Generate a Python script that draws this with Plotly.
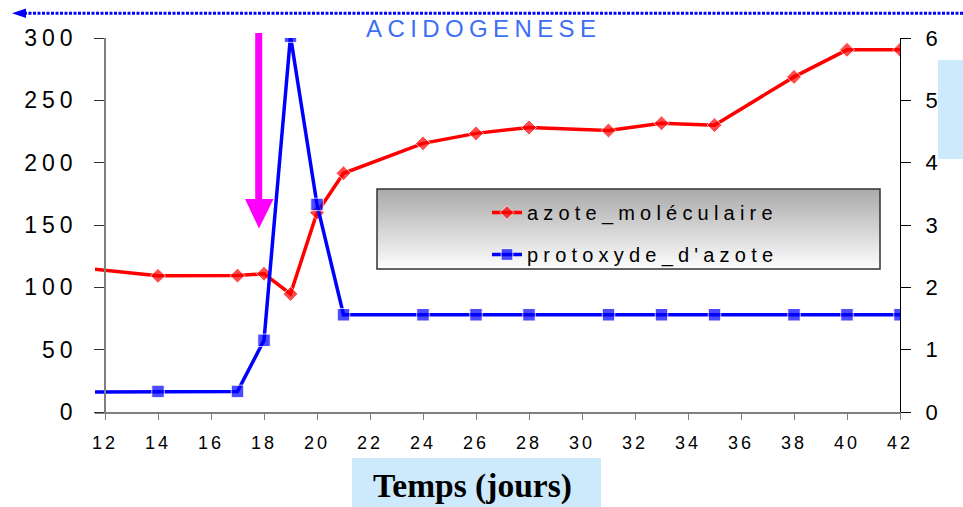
import plotly.graph_objects as go

# ---------------- data ----------------
days = [11.6, 14, 17, 18, 19, 20, 21, 24, 26, 28, 31, 33, 35, 38, 40, 42]
azote_moleculaire = [114.6, 109.2, 109.4, 110.9, 94.7, 159.9, 191.5, 215.5,
                     223.5, 228.2, 225.8, 231.6, 230.1, 268.8, 290.5, 290.5]
protoxyde_d_azote = [0.32, 0.33, 0.33, 1.15, 6.03, 3.33, 1.56, 1.56,
                     1.56, 1.56, 1.56, 1.56, 1.56, 1.56, 1.56, 1.56]
x_ticks = [12, 14, 16, 18, 20, 22, 24, 26, 28, 30, 32, 34, 36, 38, 40, 42]
y_left_ticks = [0, 50, 100, 150, 200, 250, 300]
y_right_ticks = [0, 1, 2, 3, 4, 5, 6]
series_names = ["azote_moléculaire", "protoxyde_d'azote"]
phase_label = "ACIDOGENESE"
x_title = "Temps (jours)"

# ---------------- layout geometry ----------------
W, H = 963, 507
L, R, T, B = 95, 63, 38, 95
PW, PH = W - L - R, H - T - B
X0 = 12 - 10 / 26.5


def px(x):
    return (x - L) / PW


def py(y):
    return (H - B - y) / PH


def spaced(t, ls):
    return f"<span style='letter-spacing:{ls}px'>{t}</span>"


FONT = "Liberation Sans, Arial, sans-serif"

red_sizes = [0] + [11.5] * (len(days) - 1)
blue_sizes = [0] + [12.5] * (len(days) - 1)

fig = go.Figure()
fig.add_trace(go.Scatter(
    x=days, y=azote_moleculaire, yaxis="y", mode="lines+markers",
    name=spaced(series_names[0], 5.2), legendgroup="a",
    line=dict(color="#ff0000", width=3.5),
    marker=dict(symbol="diamond", size=red_sizes, color="#ff0000"),
))
fig.add_trace(go.Scatter(
    x=days, y=protoxyde_d_azote, yaxis="y2", mode="lines+markers",
    name=spaced(series_names[1], 5.2), legendgroup="b",
    line=dict(color="#0000ff", width=3.5),
    marker=dict(symbol="square", size=blue_sizes, color="#0000ff"),
))

shapes = []
# legend gradient box
x_l0, x_l1, y_l0, y_l1 = 377, 880, 189, 269
nb = 24
for i in range(nb):
    f = i / (nb - 1)
    c = int(172 + (252 - 172) * f)
    ya = y_l0 + (y_l1 - y_l0) * i / nb
    yb = y_l0 + (y_l1 - y_l0) * (i + 1) / nb + 0.6
    shapes.append(dict(type="rect", xref="paper", yref="paper",
                       x0=px(x_l0), x1=px(x_l1), y0=py(ya), y1=py(min(yb, y_l1)),
                       fillcolor=f"rgb({c},{c},{c})", line=dict(width=0), layer="above"))
shapes.append(dict(type="rect", xref="paper", yref="paper",
                   x0=px(x_l0), x1=px(x_l1), y0=py(y_l0), y1=py(y_l1),
                   fillcolor="rgba(0,0,0,0)", line=dict(color="#333333", width=1.5), layer="above"))
# light blue boxes
shapes.append(dict(type="rect", xref="paper", yref="paper",
                   x0=px(352), x1=px(601), y0=py(458), y1=py(510),
                   fillcolor="#cceafc", line=dict(width=0), layer="below"))
shapes.append(dict(type="rect", xref="paper", yref="paper",
                   x0=px(938), x1=px(966), y0=py(60), y1=py(159),
                   fillcolor="#cceafc", line=dict(width=0), layer="below"))
# magenta arrow
shapes.append(dict(type="line", xref="paper", yref="paper",
                   x0=px(258.7), x1=px(258.7), y0=py(33), y1=py(202),
                   line=dict(color="#ff00ff", width=7), layer="above"))
shapes.append(dict(type="path", xref="paper", yref="paper",
                   path=f"M {px(245)} {py(199)} L {px(273.5)} {py(199)} L {px(259)} {py(228.5)} Z",
                   fillcolor="#ff00ff", line=dict(width=0), layer="above"))
# dotted top arrow
shapes.append(dict(type="line", xref="paper", yref="paper",
                   x0=px(24), x1=px(963), y0=py(13.3), y1=py(13.3),
                   line=dict(color="#0000ff", width=3, dash="3px,1.5px"), layer="above"))
shapes.append(dict(type="path", xref="paper", yref="paper",
                   path=f"M {px(12)} {py(13.3)} L {px(26)} {py(8.5)} L {px(26)} {py(18)} Z",
                   fillcolor="#0000ff", line=dict(width=0), layer="above"))

annotations = [
    dict(text=spaced(phase_label, 5.4), xref="paper", yref="paper",
         x=px(483), y=py(29), xanchor="center", yanchor="middle", showarrow=False,
         font=dict(family=FONT, size=24, color="#3d6ef5")),
    dict(text=x_title, xref="paper", yref="paper",
         x=px(472.5), y=py(486), xanchor="center", yanchor="middle", showarrow=False,
         font=dict(family="Liberation Serif, Times New Roman, serif", size=33.5,
                   color="#000000", weight="bold")),
]

fig.update_layout(
    width=W, height=H,
    margin=dict(l=L, r=R, t=T, b=B, pad=0),
    paper_bgcolor="white", plot_bgcolor="white",
    showlegend=True,
    legend=dict(x=px(487), y=py(193), xanchor="left", yanchor="top",
                bgcolor="rgba(0,0,0,0)", borderwidth=0,
                font=dict(family=FONT, size=20, color="#000000"),
                tracegroupgap=13, traceorder="grouped"),
    xaxis=dict(range=[X0, 42], tickmode="array", tickvals=x_ticks,
               ticktext=[spaced(v, 3) for v in x_ticks],
               showline=True, linecolor="#7f7f7f", linewidth=1.5,
               ticks="outside", ticklen=6, tickcolor="#7f7f7f", tickwidth=1,
               showgrid=False, zeroline=False, ticklabelstandoff=8,
               tickfont=dict(family=FONT, size=18, color="#000000")),
    yaxis=dict(range=[0, 300], tickmode="array", tickvals=y_left_ticks,
               ticktext=[spaced(v, 5) for v in y_left_ticks],
               anchor="free", position=10 / PW, side="left",
               showline=True, linecolor="#7f7f7f", linewidth=1.5,
               ticks="outside", ticklen=10, tickcolor="#333333", tickwidth=1,
               showgrid=False, zeroline=False, ticklabelstandoff=12,
               tickfont=dict(family=FONT, size=23, color="#000000")),
    yaxis2=dict(range=[0, 6], tickmode="array", tickvals=y_right_ticks,
                ticktext=[str(v) for v in y_right_ticks],
                overlaying="y", side="right", anchor="x",
                showline=True, linecolor="#000000", linewidth=1,
                ticks="outside", ticklen=10, tickcolor="#000000", tickwidth=1,
                showgrid=False, zeroline=False, ticklabelstandoff=10,
                tickfont=dict(family=FONT, size=22, color="#000000")),
    yaxis3=dict(range=[0, 6], tickmode="array", tickvals=y_right_ticks,
                overlaying="y", side="right", anchor="x",
                showline=False, showticklabels=False,
                ticks="inside", ticklen=10, tickcolor="#000000", tickwidth=1,
                showgrid=False, zeroline=False),
    shapes=shapes,
    annotations=annotations,
)

fig.write_html("out.html", config={"displayModeBar": False},
               post_script="document.body.style.margin='0';document.body.style.overflow='hidden';")
